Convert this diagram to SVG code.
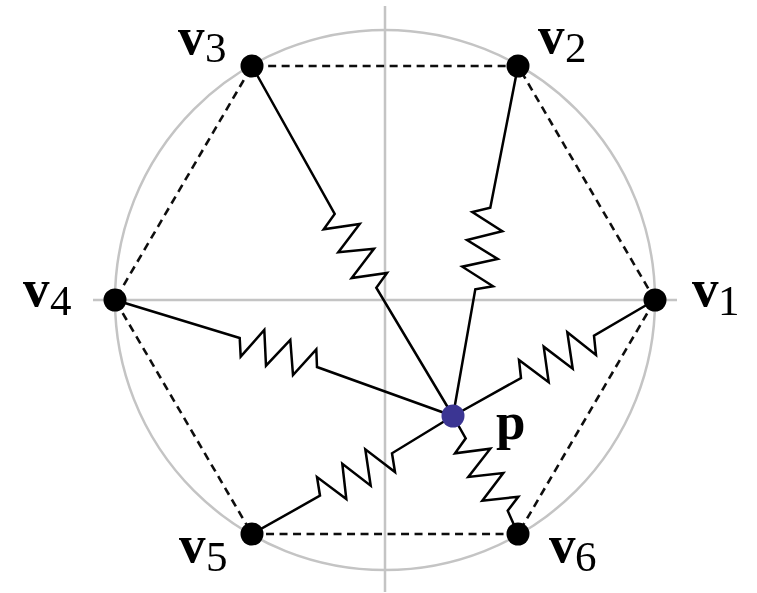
<svg xmlns="http://www.w3.org/2000/svg" width="757" height="593" viewBox="0 0 757 593">
<defs><filter id="soft" x="0" y="0" width="1" height="1"><feGaussianBlur stdDeviation="0.45"/></filter></defs>
<style>
.g{fill:none;stroke:#c4c4c4;stroke-width:2.5}
.d{fill:none;stroke:#111;stroke-width:2.6;stroke-dasharray:8 5.5}
.s{fill:none;stroke:#000;stroke-width:2.5;stroke-linejoin:miter}
.n{fill:#000}
.l{font-family:"Liberation Serif","Times New Roman",serif;fill:#000}
.b{font-weight:bold;font-size:53px}
.r{font-size:43px}
</style>
<rect width="757" height="593" fill="#fff"/>
<g filter="url(#soft)">
<g id="axes">
<circle class="g" cx="385" cy="300" r="270"/>
<path class="g" d="M93 300H677M385 6V592"/>
</g>
<g id="connectors">
<path class="d" d="M655 300L518 66L252 66L115 300L252 534L518 534Z"/>
<path class="s" d="M252 66L334.7 214L323.7 229.3L359.7 224L338.3 252.3L374 248.7L351.7 278L387 273L376.3 287.7L453 416"/>
<path class="s" d="M518 66L490.3 207.7L472.3 212L502.3 231.3L467 240L497.7 259L462.3 266.7L493 286.3L475.3 289.3L453 416"/>
<path class="s" d="M115 300L239.7 338L240.7 356.7L264.3 330L266 365.7L290.3 340L293 375L316.3 349.3L317 367L453 416"/>
<path class="s" d="M252 534L320 495.7L317 477L346.3 499L342.3 463.7L370.7 485.7L365.3 449.3L395 472L392 453.3L453 416"/>
<path class="s" d="M655 300L594 335.7L596 355L567.3 332.3L572.7 368.7L543.7 346.7L548.7 382.3L519 360L521 378L453 416"/>
<path class="s" d="M453 416L465.7 438.3L455 453.3L490.3 448.7L468.3 477L503.3 473L482.3 500.7L518.3 496.7L507.7 510.7L518 534"/>
</g>
<g id="v1"><circle class="n" cx="655" cy="300" r="11.5"/><text class="l" y="306"><tspan class="b" x="692">v</tspan><tspan class="r" x="718" y="315">1</tspan></text></g>
<g id="v2"><circle class="n" cx="518" cy="66" r="11.5"/><text class="l" y="53"><tspan class="b" x="538">v</tspan><tspan class="r" x="565" y="62">2</tspan></text></g>
<g id="v3"><circle class="n" cx="252" cy="66" r="11.5"/><text class="l" y="54"><tspan class="b" x="178">v</tspan><tspan class="r" x="205" y="62">3</tspan></text></g>
<g id="v4"><circle class="n" cx="115" cy="300" r="11.5"/><text class="l" y="306"><tspan class="b" x="23">v</tspan><tspan class="r" x="50" y="315">4</tspan></text></g>
<g id="v5"><circle class="n" cx="252" cy="534" r="11.5"/><text class="l" y="562"><tspan class="b" x="179">v</tspan><tspan class="r" x="206" y="571">5</tspan></text></g>
<g id="v6"><circle class="n" cx="518" cy="534" r="11.5"/><text class="l" y="562"><tspan class="b" x="549">v</tspan><tspan class="r" x="575" y="571">6</tspan></text></g>
<g id="p"><circle cx="453" cy="416" r="11.5" fill="#3b3593"/><text class="l b" x="496" y="439">p</text></g>
</g>
</svg>
